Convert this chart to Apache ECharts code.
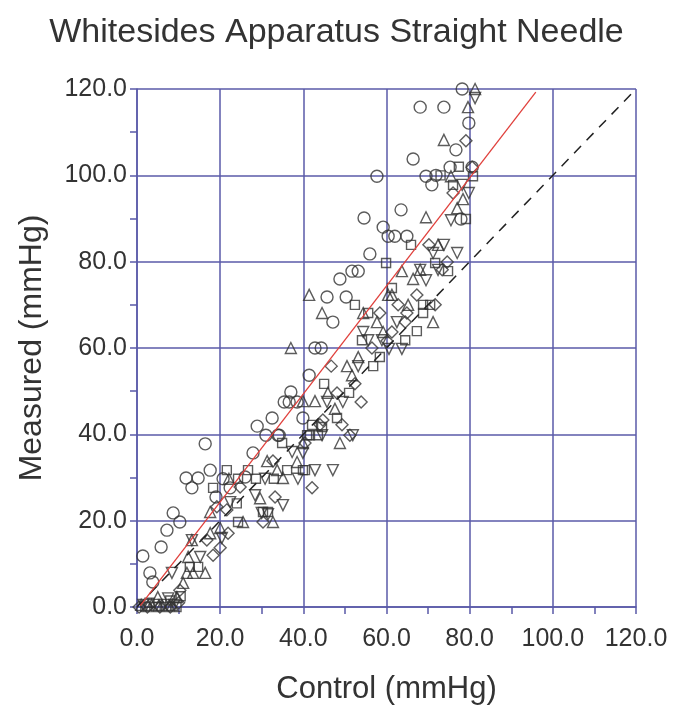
<!DOCTYPE html>
<html>
<head>
<meta charset="utf-8">
<script src="https://cdn.jsdelivr.net/npm/echarts@6/dist/echarts.min.js"></script>
<style>
  html, body { margin: 0; padding: 0; background: #fff; }
  #chart { width: 673px; height: 710px; }
</style>
</head>
<body>
<div id="chart"></div>
<script>
// Control vs measured pressure (mmHg), five needle runs, one marker shape each
const runCircle = [
  [1.4,11.8],[3.1,7.9],[3.8,5.8],[5.8,13.9],[7.2,17.8],[8.7,21.8],[10.3,19.7],
  [11.8,29.9],[14.7,29.9],[13.2,27.6],[16.4,37.8],[17.6,31.7],[19,25.5],[20.7,29.7],
  [22.4,27.6],[26,30.1],[27.9,35.7],[28.9,41.9],[31,39.8],[32.5,43.8],[33.9,39.8],
  [34.2,39.8],[35.4,47.5],[36.6,47.5],[37,49.8],[38.5,47.5],[39.9,43.8],[41.4,53.7],
  [42.8,60],[44.3,60],[45.7,71.8],[47.1,66],[48.8,76],[50.3,71.8],[51.7,77.8],
  [53.2,77.8],[54.6,90.1],[56,81.8],[57.7,99.8],[59.2,88],[60.4,85.9],[62,85.9],
  [63.5,92],[64.9,85.9],[66.4,103.8],[68.1,115.8],[69.5,99.8],[70.9,97.8],[71.9,100],
  [73.8,115.8],[75.3,101.9],[76.7,105.9],[77.9,89.9],[78.2,120],[79.8,112.1],[80.6,101.9]
];
const runSquare = [
  [2,0],[4.5,0],[7,0],[9.5,0],[3,1],[8,1.5],[10.5,2.5],
  [12.7,9.3],[14.7,9.3],[18.3,27.6],[21.6,31.7],[24,24],[24.3,19.7],[24.3,29.7],
  [26.7,31.7],[28.6,29.7],[30.3,22],[31.5,22],[32.9,29.7],[34.9,38],[36.1,31.7],
  [39.9,31.7],[40.4,31.7],[40.9,39.8],[41.6,39.8],[42.1,42.2],[43.5,39.8],[44.5,41.7],
  [45,51.7],[48.1,43.8],[51,49.6],[52.4,70],[55.6,68.1],[54.1,61.8],[56.8,55.8],
  [58.4,57.9],[59.9,79.7],[61.3,73.9],[64.5,61.8],[65.9,83.9],[67.3,63.9],[68.8,70],
  [68.8,68.1],[70.5,70],[71.7,79.7],[73,100],[74.8,77.8],[76,97.8],[77.4,102],
  [79.1,89.9],[80.8,99.8]
];
const runTriUp = [
  [1,0.5],[3.5,0.5],[6,0.5],[8.5,0.5],[5,2.3],[9.6,2.3],[11.1,5.6],[12,7.9],
  [13.5,7.9],[12.3,11.6],[16.4,7.9],[13.2,15.5],[17.6,17.1],[17.6,22],[20,18.3],
  [22.1,29.7],[25.5,19.7],[29.6,25.2],[31.3,33.8],[32.7,19.7],[33.7,31.7],[35.1,29.9],
  [37,60],[38.5,33.6],[39.9,38],[39.9,47.7],[41.4,72.3],[42.8,47.7],[44.5,68.1],
  [45.9,49.6],[47.6,45.9],[48.8,38],[50.5,55.8],[51.7,53.7],[53.2,57.9],[54.4,68.1],
  [57.7,66],[59.2,63.7],[60.4,72.3],[61.3,72.3],[63.7,77.8],[65.2,70],[66.4,76],
  [68.1,78.1],[69.5,90.3],[71.2,66],[72.4,83.9],[73.8,108.2],[75.5,99.8],[77,92.4],
  [78.4,94.5],[79.6,115.8],[81.3,120]
];
const runTriDown = [
  [1.5,0.5],[4,0.5],[6.5,0.5],[9,0.5],[7.5,2],[8.4,7.9],[13.2,15.5],[15.2,11.6],
  [20.4,16],[22.4,24.3],[28.4,25.9],[30,21.8],[31.5,21.5],[30.8,29.7],[35.1,23.6],
  [37.3,35.9],[38.7,29.7],[39.9,35.7],[42.8,31.7],[44.5,39.8],[45.7,47.5],[47.1,31.7],
  [49.5,47.5],[51.9,39.8],[53.2,55.8],[54.4,63.7],[55.6,61.8],[58.9,61.8],[60.6,59.8],
  [62.5,66],[63.7,59.8],[68.1,78.1],[69.5,75.7],[71.2,82],[72.4,78.1],[73.8,83.9],
  [75.5,89.6],[77,82],[78.2,97.8],[79.8,95.9],[81.3,117.9]
];
const runDiamond = [
  [0.5,0],[2.5,0],[5.5,0],[8,0],[10,1],[10.3,3.9],[16.8,15.5],[18.3,12],[19.2,23.2],
  [20,13.7],[21.6,22.5],[21.9,17.1],[24.8,27.8],[30.3,19.7],[32.7,33.8],[33.2,25.5],
  [40.4,38],[42.1,27.6],[44,42.2],[44.7,43.3],[46.7,55.8],[48.1,49.6],[49.3,42.2],
  [51.2,39.8],[52.4,51.7],[53.9,47.5],[56.5,60],[58.4,68.1],[60.1,61.6],[61.3,63.7],
  [62.8,70],[64.5,66],[64.9,68.1],[67.3,72.3],[70.2,83.9],[71.7,70],[73.4,78.1],
  [74.6,79.9],[76,95.9],[79.1,108],[80.6,101.9]
];

// Regression fit and line of identity
const fitLine = [[0.8, 0.3], [95.9, 119.3]];
const identityLine = [[0, 0], [120, 120]];

const axisMin = 0, axisMax = 120, axisStep = 20;

const gridBlue = '#5a5aa8';
const inkGray = '#333';
const fontFace = 'Liberation Sans, Arial, sans-serif';

const chart = echarts.init(document.getElementById('chart'), null, { renderer: 'canvas' });

function markerSeries(data, symbol, size, rotate) {
  return {
    type: 'scatter',
    data: data,
    symbol: symbol,
    symbolSize: size,
    symbolRotate: rotate || 0,
    silent: true,
    itemStyle: { color: 'rgba(0,0,0,0)', borderColor: '#333', borderWidth: 1.4 },
    z: 3
  };
}

function valueAxis(extra) {
  return Object.assign({
    type: 'value',
    min: axisMin,
    max: axisMax,
    interval: axisStep,
    axisLine: { show: true, onZero: false, lineStyle: { color: gridBlue, width: 1.5 } },
    axisTick: { show: true, length: 7, lineStyle: { color: gridBlue, width: 1.5 } },
    minorTick: { show: true, splitNumber: 2, length: 7, lineStyle: { color: gridBlue, width: 1.5 } },
    splitLine: { show: true, lineStyle: { color: gridBlue, width: 1.5 } }
  }, extra);
}

chart.setOption({
  animation: false,
  backgroundColor: '#fff',
  title: {
    text: 'Whitesides Apparatus Straight Needle',
    left: 'center',
    top: 11,
    textStyle: { color: inkGray, fontFamily: fontFace, fontSize: 34, fontWeight: 'normal' }
  },
  grid: { left: 137, right: 37, top: 89, bottom: 103, containLabel: false },
  xAxis: valueAxis({
    name: 'Control (mmHg)',
    nameLocation: 'middle',
    nameGap: 67,
    nameTextStyle: { color: inkGray, fontFamily: fontFace, fontSize: 31 },
    axisLabel: {
      color: inkGray, fontFamily: fontFace, fontSize: 25,
      margin: 20, formatter: v => v.toFixed(1)
    }
  }),
  yAxis: valueAxis({
    name: 'Measured (mmHg)',
    nameLocation: 'middle',
    nameGap: 89,
    nameTextStyle: { color: inkGray, fontFamily: fontFace, fontSize: 32 },
    axisLabel: {
      color: inkGray, fontFamily: fontFace, fontSize: 25,
      margin: 10, formatter: v => v.toFixed(1)
    }
  }),
  series: [
    markerSeries(runCircle, 'circle', 12),
    markerSeries(runSquare, 'rect', 9),
    markerSeries(runTriUp, 'triangle', 11),
    markerSeries(runTriDown, 'triangle', 11, 180),
    markerSeries(runDiamond, 'diamond', 12),
    {
      type: 'line',
      data: identityLine,
      symbol: 'none',
      silent: true,
      lineStyle: { color: '#222', width: 1.5, type: [10, 8] },
      z: 4
    },
    {
      type: 'line',
      data: fitLine,
      symbol: 'none',
      silent: true,
      lineStyle: { color: '#e0403c', width: 1.3 },
      z: 5
    }
  ]
});
</script>
</body>
</html>
